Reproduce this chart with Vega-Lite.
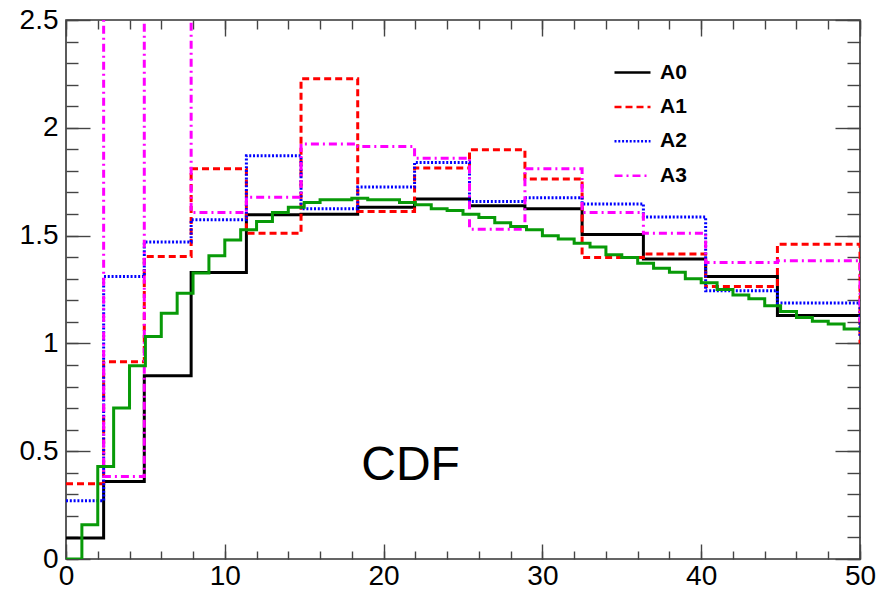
{
  "$schema": "https://vega.github.io/schema/vega-lite/v6.json",
  "width": 794,
  "height": 539,
  "autosize": {"type": "none"},
  "padding": {"left": 66, "top": 20, "right": 19, "bottom": 34},
  "background": "white",
  "config": {
    "view": {"stroke": "#333333", "strokeWidth": 1.6},
    "font": "Liberation Sans",
    "axis": {
      "grid": false,
      "domain": false,
      "title": null,
      "tickColor": "#444444",
      "tickWidth": 1.4,
      "labelFont": "Liberation Sans",
      "labelFontSize": 28,
      "labelColor": "#000000",
      "labelFlush": false,
      "labelOverlap": false,
      "labelBound": false
    }
  },
  "datasets": {
    "hist": [
      {"s": "A0", "x": 0, "v": 0.097}, {"s": "A0", "x": 2.37, "v": 0.36}, {"s": "A0", "x": 4.93, "v": 0.85},
      {"s": "A0", "x": 7.88, "v": 1.329}, {"s": "A0", "x": 11.36, "v": 1.597}, {"s": "A0", "x": 14.8, "v": 1.599},
      {"s": "A0", "x": 18.37, "v": 1.632}, {"s": "A0", "x": 21.95, "v": 1.67}, {"s": "A0", "x": 25.41, "v": 1.639},
      {"s": "A0", "x": 28.9, "v": 1.624}, {"s": "A0", "x": 32.5, "v": 1.505}, {"s": "A0", "x": 36.36, "v": 1.391},
      {"s": "A0", "x": 40.28, "v": 1.31}, {"s": "A0", "x": 44.8, "v": 1.129}, {"s": "A0", "x": 50, "v": 1.129},

      {"s": "A1", "x": 0, "v": 0.349}, {"s": "A1", "x": 2.37, "v": 0.915}, {"s": "A1", "x": 4.93, "v": 1.403},
      {"s": "A1", "x": 7.88, "v": 1.81}, {"s": "A1", "x": 11.36, "v": 1.511}, {"s": "A1", "x": 14.8, "v": 2.227},
      {"s": "A1", "x": 18.37, "v": 1.612}, {"s": "A1", "x": 21.95, "v": 1.813}, {"s": "A1", "x": 25.41, "v": 1.898},
      {"s": "A1", "x": 28.9, "v": 1.763}, {"s": "A1", "x": 32.5, "v": 1.398}, {"s": "A1", "x": 36.36, "v": 1.415},
      {"s": "A1", "x": 40.28, "v": 1.264}, {"s": "A1", "x": 44.8, "v": 1.46}, {"s": "A1", "x": 50, "v": 1.0},

      {"s": "A2", "x": 0, "v": 0.27}, {"s": "A2", "x": 2.37, "v": 1.31}, {"s": "A2", "x": 4.93, "v": 1.47},
      {"s": "A2", "x": 7.88, "v": 1.573}, {"s": "A2", "x": 11.36, "v": 1.87}, {"s": "A2", "x": 14.8, "v": 1.624},
      {"s": "A2", "x": 18.37, "v": 1.725}, {"s": "A2", "x": 21.95, "v": 1.839}, {"s": "A2", "x": 25.41, "v": 1.658},
      {"s": "A2", "x": 28.9, "v": 1.676}, {"s": "A2", "x": 32.5, "v": 1.647}, {"s": "A2", "x": 36.36, "v": 1.586},
      {"s": "A2", "x": 40.28, "v": 1.244}, {"s": "A2", "x": 44.8, "v": 1.187}, {"s": "A2", "x": 50, "v": 1.03},

      {"s": "A3", "x": 0, "v": 2.8}, {"s": "A3", "x": 2.37, "v": 0.383}, {"s": "A3", "x": 4.93, "v": 2.9},
      {"s": "A3", "x": 7.88, "v": 1.607}, {"s": "A3", "x": 11.36, "v": 1.678}, {"s": "A3", "x": 14.8, "v": 1.925},
      {"s": "A3", "x": 18.37, "v": 1.913}, {"s": "A3", "x": 21.95, "v": 1.859}, {"s": "A3", "x": 25.41, "v": 1.53},
      {"s": "A3", "x": 28.9, "v": 1.81}, {"s": "A3", "x": 32.5, "v": 1.607}, {"s": "A3", "x": 36.36, "v": 1.511},
      {"s": "A3", "x": 40.28, "v": 1.375}, {"s": "A3", "x": 44.8, "v": 1.383}, {"s": "A3", "x": 50, "v": 1.1}
    ],
    "fine": [
      {"x": 0, "v": 0}, {"x": 1, "v": 0.159}, {"x": 2, "v": 0.429}, {"x": 3, "v": 0.7}, {"x": 4, "v": 0.896},
      {"x": 5, "v": 1.032}, {"x": 6, "v": 1.14}, {"x": 7, "v": 1.233}, {"x": 8, "v": 1.326}, {"x": 9, "v": 1.406},
      {"x": 10, "v": 1.48}, {"x": 11, "v": 1.527}, {"x": 12, "v": 1.565}, {"x": 13, "v": 1.607}, {"x": 14, "v": 1.632},
      {"x": 15, "v": 1.653}, {"x": 16, "v": 1.666}, {"x": 17, "v": 1.666}, {"x": 18, "v": 1.673}, {"x": 19, "v": 1.666},
      {"x": 20, "v": 1.666}, {"x": 21, "v": 1.653}, {"x": 22, "v": 1.643}, {"x": 23, "v": 1.624}, {"x": 24, "v": 1.616},
      {"x": 25, "v": 1.599}, {"x": 26, "v": 1.584}, {"x": 27, "v": 1.56}, {"x": 28, "v": 1.542}, {"x": 29, "v": 1.527},
      {"x": 30, "v": 1.499}, {"x": 31, "v": 1.484}, {"x": 32, "v": 1.465}, {"x": 33, "v": 1.447}, {"x": 34, "v": 1.411},
      {"x": 35, "v": 1.398}, {"x": 36, "v": 1.372}, {"x": 37, "v": 1.348}, {"x": 38, "v": 1.33}, {"x": 39, "v": 1.3},
      {"x": 40, "v": 1.281}, {"x": 41, "v": 1.25}, {"x": 42, "v": 1.225}, {"x": 43, "v": 1.207}, {"x": 44, "v": 1.175},
      {"x": 45, "v": 1.148}, {"x": 46, "v": 1.12}, {"x": 47, "v": 1.103}, {"x": 48, "v": 1.09}, {"x": 49, "v": 1.067},
      {"x": 50, "v": 1.067}
    ],
    "note": [{"x": 21.7, "v": 0.368, "t": "CDF"}]
  },
  "layer": [
    {
      "data": {"name": "hist"},
      "transform": [{"filter": "datum.s === 'A0' || datum.s === 'A1'"}],
      "mark": {"type": "line", "interpolate": "step-after", "strokeWidth": 3, "clip": true},
      "encoding": {
        "x": {"field": "x", "type": "quantitative", "scale": {"domain": [0, 50], "nice": false, "zero": false},
              "axis": {"orient": "bottom", "values": [0, 10, 20, 30, 40, 50], "tickSize": -15, "labelPadding": 18, "format": "d"}},
        "y": {"field": "v", "type": "quantitative", "scale": {"domain": [0, 2.5], "nice": false},
              "axis": {"orient": "left", "values": [0, 0.5, 1, 1.5, 2, 2.5], "tickSize": -24, "labelPadding": 32, "format": "~g"}},
        "color": {"field": "s", "type": "nominal",
                  "scale": {"domain": ["A0", "A1", "A2", "A3"], "range": ["#000000", "#ff0000", "#0000ff", "#ff00ff"]},
                  "legend": {"title": null, "orient": "none", "legendX": 547, "legendY": 33, "padding": 0, "symbolType": "stroke", "symbolSize": 1296, "symbolStrokeWidth": 2.5, "labelFont": "Liberation Sans", "labelFontWeight": "bold", "labelFontSize": 21, "labelColor": "#000000", "labelOffset": 8, "rowPadding": 4.4}},
        "strokeDash": {"field": "s", "type": "nominal",
                       "scale": {"domain": ["A0", "A1", "A2", "A3"], "range": [[1, 0], [7, 4], [2, 1.8], [8, 4, 2, 4]]},
                       "legend": {"title": null, "orient": "none", "legendX": 547, "legendY": 33, "padding": 0, "symbolType": "stroke", "symbolSize": 1296, "symbolStrokeWidth": 2.5, "labelFont": "Liberation Sans", "labelFontWeight": "bold", "labelFontSize": 21, "labelColor": "#000000", "labelOffset": 8, "rowPadding": 4.4}}
      }
    },
    {
      "data": {"name": "hist"},
      "transform": [{"filter": "datum.s === 'A2' || datum.s === 'A3'"}],
      "mark": {"type": "line", "interpolate": "step-after", "strokeWidth": 3, "clip": true},
      "encoding": {
        "x": {"field": "x", "type": "quantitative", "scale": {"domain": [0, 50], "nice": false, "zero": false},
              "axis": {"orient": "bottom", "values": [0, 2, 4, 6, 8, 10, 12, 14, 16, 18, 20, 22, 24, 26, 28, 30, 32, 34, 36, 38, 40, 42, 44, 46, 48, 50], "tickSize": -8, "labels": false}},
        "y": {"field": "v", "type": "quantitative", "scale": {"domain": [0, 2.5], "nice": false},
              "axis": {"orient": "left", "values": [0, 0.1, 0.2, 0.3, 0.4, 0.5, 0.6, 0.7, 0.8, 0.9, 1, 1.1, 1.2, 1.3, 1.4, 1.5, 1.6, 1.7, 1.8, 1.9, 2, 2.1, 2.2, 2.3, 2.4, 2.5], "tickSize": -12, "labels": false}},
        "color": {"field": "s", "type": "nominal",
                  "scale": {"domain": ["A0", "A1", "A2", "A3"], "range": ["#000000", "#ff0000", "#0000ff", "#ff00ff"]},
                  "legend": {"title": null, "orient": "none", "legendX": 547, "legendY": 33, "padding": 0, "symbolType": "stroke", "symbolSize": 1296, "symbolStrokeWidth": 2.5, "labelFont": "Liberation Sans", "labelFontWeight": "bold", "labelFontSize": 21, "labelColor": "#000000", "labelOffset": 8, "rowPadding": 4.4}},
        "strokeDash": {"field": "s", "type": "nominal",
                       "scale": {"domain": ["A0", "A1", "A2", "A3"], "range": [[1, 0], [7, 4], [2, 1.8], [8, 4, 2, 4]]},
                       "legend": {"title": null, "orient": "none", "legendX": 547, "legendY": 33, "padding": 0, "symbolType": "stroke", "symbolSize": 1296, "symbolStrokeWidth": 2.5, "labelFont": "Liberation Sans", "labelFontWeight": "bold", "labelFontSize": 21, "labelColor": "#000000", "labelOffset": 8, "rowPadding": 4.4}}
      }
    },
    {
      "data": {"name": "fine"},
      "mark": {"type": "line", "interpolate": "step-after", "strokeWidth": 3, "color": "#089a08", "clip": true},
      "encoding": {
        "x": {"field": "x", "type": "quantitative", "scale": {"domain": [0, 50], "nice": false, "zero": false},
              "axis": {"orient": "top", "values": [0, 10, 20, 30, 40, 50], "tickSize": -16, "labels": false}},
        "y": {"field": "v", "type": "quantitative", "scale": {"domain": [0, 2.5], "nice": false},
              "axis": {"orient": "right", "values": [0, 0.5, 1, 1.5, 2, 2.5], "tickSize": -25, "labels": false}}
      }
    },
    {
      "data": {"name": "note"},
      "mark": {"type": "text", "font": "Liberation Sans", "fontSize": 48, "align": "center", "baseline": "alphabetic", "color": "#000000"},
      "encoding": {
        "x": {"field": "x", "type": "quantitative", "scale": {"domain": [0, 50], "nice": false, "zero": false},
              "axis": {"orient": "top", "values": [0, 2, 4, 6, 8, 10, 12, 14, 16, 18, 20, 22, 24, 26, 28, 30, 32, 34, 36, 38, 40, 42, 44, 46, 48, 50], "tickSize": -9, "labels": false}},
        "y": {"field": "v", "type": "quantitative", "scale": {"domain": [0, 2.5], "nice": false},
              "axis": {"orient": "right", "values": [0, 0.1, 0.2, 0.3, 0.4, 0.5, 0.6, 0.7, 0.8, 0.9, 1, 1.1, 1.2, 1.3, 1.4, 1.5, 1.6, 1.7, 1.8, 1.9, 2, 2.1, 2.2, 2.3, 2.4, 2.5], "tickSize": -13, "labels": false}},
        "text": {"field": "t", "type": "nominal"}
      }
    }
  ],
  "resolve": {"axis": {"x": "independent", "y": "independent"}}
}
